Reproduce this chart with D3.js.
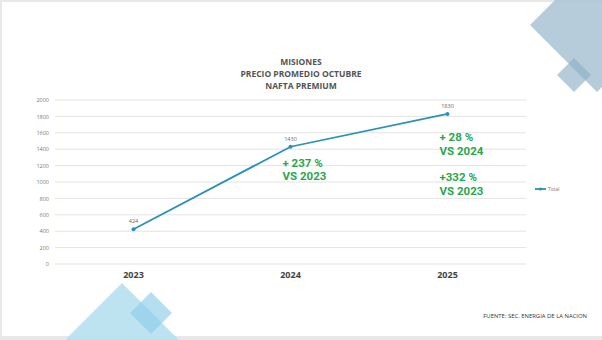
<!DOCTYPE html>
<html>
<head>
<meta charset="utf-8">
<script src="https://cdn.jsdelivr.net/npm/d3@7"></script>
<style>
  body { margin: 0; background: #fff; }
  svg { display: block; font-family: "Open Sans", "Noto Sans", sans-serif; }
</style>
</head>
<body>
<svg id="chart" width="602" height="340"></svg>
<script>
// data
const years = ["2023", "2024", "2025"];
const prices = [424, 1430, 1830];
const yTicks = [0, 200, 400, 600, 800, 1000, 1200, 1400, 1600, 1800, 2000];
const titleLines = ["MISIONES", "PRECIO PROMEDIO OCTUBRE", "NAFTA PREMIUM"];
const noteYears = ["2024", "2025", "2025"];
const noteTexts = [["+ 237 %", "VS 2023"], ["+ 28 %", "VS 2024"], ["+332 %", "VS 2023"]];
const seriesName = "Total";
const source = "FUENTE: SEC. ENERGIA DE LA NACION";

const svg = d3.select("#chart");
const W = 602, H = 340;

// slide frame
svg.append("rect").attr("width", W).attr("height", H).attr("fill", "#e8e8e8");
svg.append("rect").attr("x", 2).attr("y", 2).attr("width", W - 2).attr("height", 334).attr("fill", "#fff");

// decorative diamonds
function diamond(cx, cy, r) {
  return `M${cx - r},${cy}L${cx},${cy - r}L${cx + r},${cy}L${cx},${cy + r}Z`;
}
const deco = svg.append("g");
deco.append("path").attr("d", diamond(597, 25, 67)).attr("fill", "#a9c3d5").attr("fill-opacity", 0.85);
deco.append("path").attr("d", diamond(574, 75, 17)).attr("fill", "#8fb0c8").attr("fill-opacity", 0.65);
deco.append("path").attr("d", diamond(122, 339, 56)).attr("fill", "#b6e0f0").attr("fill-opacity", 0.9);
deco.append("path").attr("d", diamond(151, 313, 21)).attr("fill", "#8ecde9").attr("fill-opacity", 0.65);

// title
svg.append("g").selectAll("text").data(titleLines).join("text")
  .attr("x", 301).attr("y", (d, i) => 65 + i * 12)
  .attr("text-anchor", "middle")
  .attr("font-size", 8.5).attr("font-weight", "bold")
  .attr("fill", "#555")
  .text(d => d);

const margin = { left: 55, right: 76 };
const x = d3.scaleBand().domain(years).range([margin.left, W - margin.right]);
const y = d3.scaleLinear().domain([0, 2000]).range([264, 100]);
const cx = d => x(d) + x.bandwidth() / 2;

// grid
svg.append("g").selectAll("line").data(yTicks).join("line")
  .attr("x1", margin.left).attr("x2", W - margin.right)
  .attr("y1", d => y(d)).attr("y2", d => y(d))
  .attr("stroke", "#e3e3e3").attr("stroke-width", 1);

// y axis
const yAxis = svg.append("g")
  .attr("transform", `translate(${margin.left - 6},0)`)
  .call(d3.axisLeft(y).tickValues(yTicks).tickFormat(d3.format("d")).tickSize(0).tickPadding(0));
yAxis.select(".domain").remove();
yAxis.selectAll("text").attr("font-size", 5.5).attr("fill", "#777").attr("font-family", "Open Sans, sans-serif");

// x axis
const xAxis = svg.append("g")
  .attr("transform", "translate(0,270)")
  .call(d3.axisBottom(x).tickSize(0).tickPadding(0));
xAxis.select(".domain").remove();
xAxis.selectAll("text").attr("font-size", 9).attr("font-weight", "bold").attr("fill", "#444")
  .attr("font-family", "Open Sans, sans-serif").attr("dy", "0.9em");

// line
const pts = years.map((d, i) => ({ year: d, v: prices[i] }));
svg.append("path").datum(pts)
  .attr("fill", "none").attr("stroke", "#2a92b6").attr("stroke-width", 1.8)
  .attr("d", d3.line().x(d => cx(d.year)).y(d => y(d.v)));
svg.append("g").selectAll("circle").data(pts).join("circle")
  .attr("cx", d => cx(d.year)).attr("cy", d => y(d.v)).attr("r", 2)
  .attr("fill", "#2a92b6");
svg.append("g").selectAll("text").data(pts).join("text")
  .attr("x", d => cx(d.year)).attr("y", d => y(d.v) - 6)
  .attr("text-anchor", "middle").attr("font-size", 5.5).attr("fill", "#666")
  .text(d => d.v);

// green notes (offset below the point of that year)
const noteOffsets = [20, 27, 67];
noteTexts.forEach((lines, k) => {
  const yr = noteYears[k];
  const t = svg.append("text")
    .attr("x", cx(yr) - 8)
    .attr("y", y(prices[years.indexOf(yr)]) + noteOffsets[k])
    .attr("font-family", "Roboto, sans-serif")
    .attr("font-size", 11.5).attr("font-weight", "bold").attr("fill", "#2ba64e");
  t.selectAll("tspan").data(lines).join("tspan")
    .attr("x", cx(yr) - 8).attr("dy", (d, i) => i ? 13.6 : 0)
    .text(d => d);
});

// legend
const lg = svg.append("g").attr("transform", "translate(535,189)");
lg.append("line").attr("x1", 0).attr("x2", 11).attr("stroke", "#2a92b6").attr("stroke-width", 1.8);
lg.append("circle").attr("cx", 5.5).attr("r", 1.6).attr("fill", "#2a92b6");
lg.append("text").attr("x", 13).attr("dy", "0.35em").attr("font-size", 5).attr("fill", "#777").text(seriesName);

// source
svg.append("text").attr("x", 587).attr("y", 318).attr("text-anchor", "end")
  .attr("font-size", 5.9).attr("fill", "#333").text(source);
</script>
</body>
</html>
